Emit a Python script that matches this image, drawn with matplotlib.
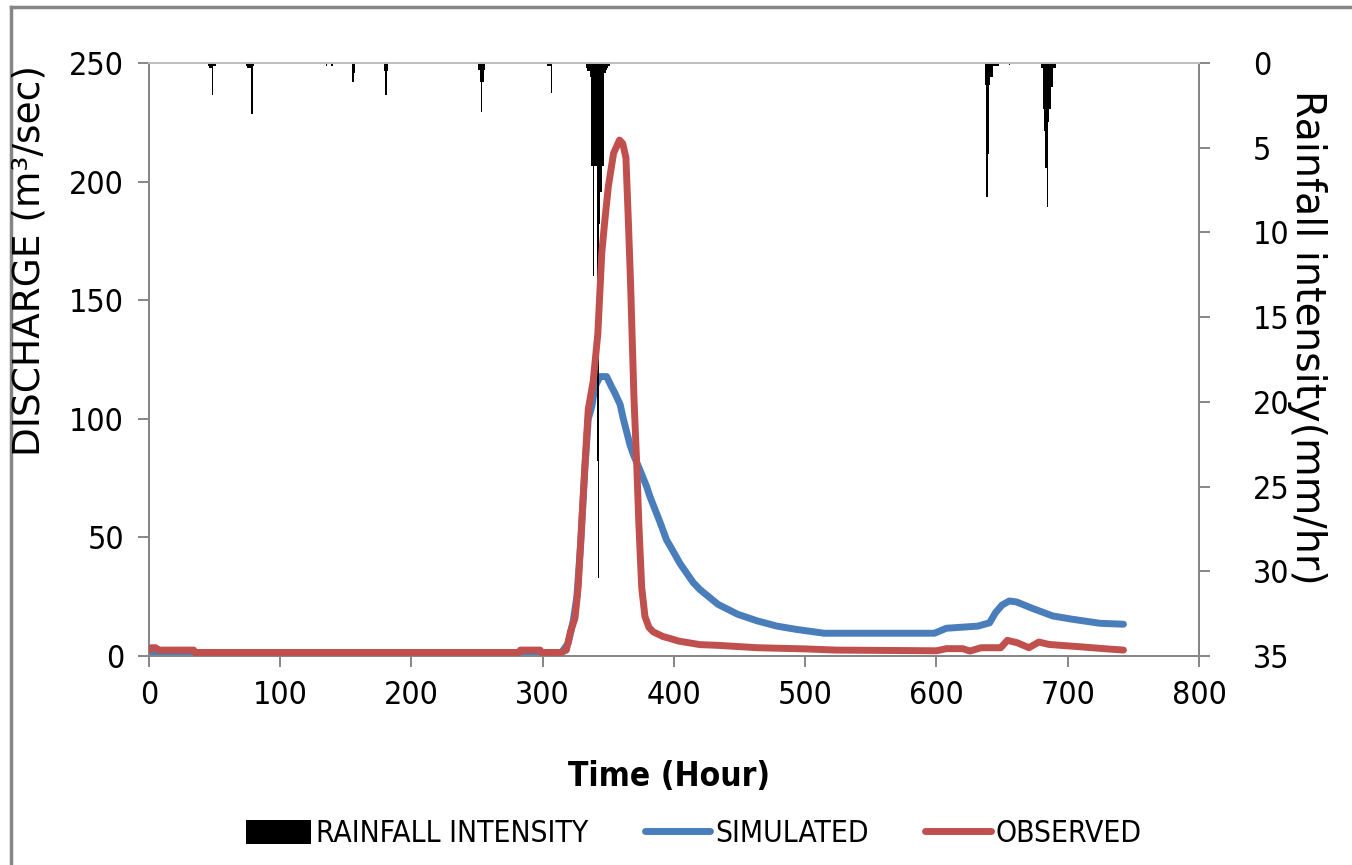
import matplotlib
matplotlib.use('Agg')
import matplotlib.pyplot as plt
from matplotlib.lines import Line2D

plt.rcParams['font.family'] = ['DejaVu Sans']
plt.rcParams['font.stretch'] = 'condensed'

# rainfall (hour start, mm/hr)
rain_hour = [45, 46, 47, 48, 49, 50,
             74, 75, 76, 77, 78, 79,
             135, 139,
             155, 156,
             179, 180, 181,
             251, 252, 253, 254, 255,
             303, 304, 305, 306,
             333, 334, 335, 336, 337, 338, 339, 340, 341, 342, 343, 344, 345, 346, 347, 348, 349, 350,
             637, 638, 639, 640, 641, 642, 643, 644, 645, 646, 647,
             655,
             680, 681, 682, 683, 684, 685, 686, 687, 688, 689, 690]
rain_mm = [0.2, 0.3, 0.3, 1.9, 0.2, 0.2,
           0.2, 0.3, 0.3, 0.3, 3.0, 0.2,
           0.15, 0.15,
           1.15, 0.6,
           0.45, 1.9, 0.45,
           0.4, 1.1, 2.9, 1.1, 0.4,
           0.2, 0.2, 0.2, 1.8,
           0.3, 0.5, 0.5, 0.8, 6.1, 12.6, 6.1, 6.1, 23.5, 30.4, 9.5, 7.6, 6.1, 6.1, 0.6, 0.4, 0.3, 0.2,
           1.3, 7.9, 5.4, 1.3, 0.85, 0.85, 0.2, 0.2, 0.2, 0.2, 0.2,
           0.1,
           0.3, 2.7, 4.0, 6.2, 8.5, 3.5, 2.7, 1.4, 1.4, 0.3, 0.3]

# simulated discharge
sim_hour = [0, 314, 315, 319.5, 323.3, 326, 329, 332, 334.7, 337.3, 339.8, 343.6, 348.7,
            352, 355, 359, 361.4, 366.5, 369, 374, 379.2, 381.7, 389.3, 394.3, 399.5,
            404.6, 409.6, 414.6, 419.8, 433.5, 448.5, 463.5, 478.5, 493.5, 514.5, 598.5, 607.5,
            631.5, 640.5, 645, 650, 655.5, 661, 673.5, 688.5, 703.5, 724.5, 742.5]
sim_q = [0.8, 0.8, 2, 5.5, 15, 25, 48, 78, 100, 105, 113.5, 117.8, 117.8,
         114, 110.8, 106, 100, 89, 85, 78.5, 71.4, 67.2, 56.5, 49, 44,
         39, 35, 31, 28, 21.8, 17.6, 14.8, 12.6, 11.2, 9.6, 9.6, 11.7,
         12.6, 14, 18.3, 21.5, 23.2, 22.8, 20, 16.9, 15.5, 13.8, 13.4]

# observed discharge
obs_hour = [0, 2, 5, 7, 34, 35, 282, 283, 298, 299, 314, 318, 321, 322.5, 324.6, 327, 329,
            332.2, 334.7, 338.5, 342, 345, 347.4, 350, 354, 358.5, 361, 363.4, 365.2, 367,
            368, 369.5, 371.6, 373.3, 375.4, 377.9, 381, 384.2, 391.6, 397, 403.5, 419.8,
            433.5, 463.5, 500, 523.5, 600, 607.5, 620, 625.5, 634, 649, 654, 661.5, 670.5,
            678, 685.5, 694.5, 709.5, 727.5, 742.5]
obs_q = [2.5, 3.5, 3.5, 2.5, 2.5, 1.5, 1.5, 2.5, 2.5, 1.5, 1.5, 2.5, 10, 12.5, 16, 29, 49,
         81, 104, 116, 136, 170, 184, 198, 212, 217.5, 216, 210, 184, 156,
         137, 109, 81, 55, 29, 16.6, 12, 10.2, 8.2, 7.4, 6.3, 4.8,
         4.5, 3.5, 3.0, 2.5, 2.2, 3.1, 3.1, 2.1, 3.5, 3.5, 6.6, 5.6, 3.5,
         5.9, 4.9, 4.5, 3.9, 3.1, 2.5]

gray = '#868686'
blue = '#4A7EBB'
red = '#C0504D'

fig = plt.figure(figsize=(13.52, 8.65), dpi=100)
ax = fig.add_axes([0.1102, 0.2416, 0.7766, 0.6856])
ax2 = ax.twinx()

ax.plot(sim_hour, sim_q, color=blue, lw=5, solid_capstyle='round', label='SIMULATED', zorder=2)
ax2.bar(rain_hour, rain_mm, width=1, align='edge', color='black', linewidth=0, zorder=1,
        label='RAINFALL INTENSITY')
ax2.plot(obs_hour, obs_q, color=red, lw=5, solid_capstyle='round', transform=ax.transData,
         zorder=3, label='OBSERVED')

ax.set_xlim(0, 800)
ax.set_ylim(0, 250)
ax2.set_ylim(35, 0)
ax.set_xticks(range(0, 801, 100))
ax.set_yticks(range(0, 251, 50))
ax2.set_yticks(range(0, 36, 5))

for a in (ax, ax2):
    for s in a.spines.values():
        s.set_color(gray)
        s.set_linewidth(1.4)
    a.tick_params(colors=gray, labelcolor='black', labelsize=23, width=1.4, length=8, direction='out')
ax.spines['top'].set_color('#BFBFBF')
ax2.spines['top'].set_color('#BFBFBF')
ax.tick_params(axis='x', pad=9)
ax.tick_params(axis='y', pad=10)
ax2.tick_params(axis='y', pad=31)

fig.text(0.495, 0.102, 'Time (Hour)', ha='center', va='center', fontsize=24, fontweight='bold')
fig.text(0.022, 0.699, 'DISCHARGE (m³/sec)', rotation=90, ha='center', va='center',
         fontsize=27, fontstretch='normal')
fig.text(0.967, 0.61, 'Rainfall intensity(mm/hr)', rotation=270, ha='center', va='center',
         fontsize=28.5, fontstretch='normal')

handles = [ax2.containers[0], ax.lines[0], ax2.lines[0]]
labels = ['RAINFALL INTENSITY', 'SIMULATED', 'OBSERVED']
fig.legend(handles, labels, loc='center', bbox_to_anchor=(0.513, 0.036), ncol=3, frameon=False,
           fontsize=21.5, handlelength=2.2, handleheight=0.9, handletextpad=0.15, columnspacing=1.9)

# outer chart border (left and top edges visible)
fig.add_artist(Line2D([0.0085, 0.0085], [0, 0.992], transform=fig.transFigure, color=gray, lw=2.5))
fig.add_artist(Line2D([0.0085, 1.0], [0.992, 0.992], transform=fig.transFigure, color=gray, lw=2.5))

fig.savefig('out.png', dpi=100)
